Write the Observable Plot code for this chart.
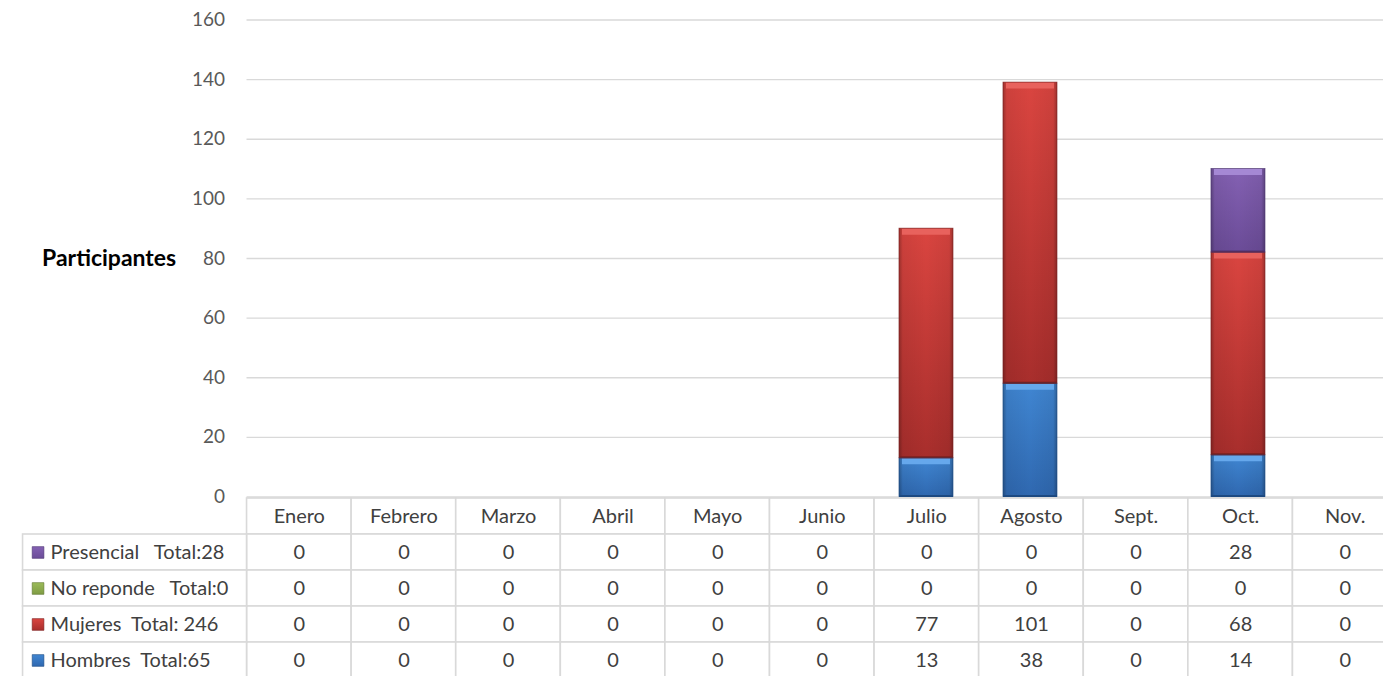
<!DOCTYPE html>
<html>
<head>
<meta charset="utf-8">
<script src="https://cdn.jsdelivr.net/npm/d3@7"></script>
<script src="https://cdn.jsdelivr.net/npm/@observablehq/plot@0.6"></script>
<style>
  html, body { margin: 0; padding: 0; background: white; overflow: hidden; }
  #chart { width: 1383px; height: 676px; position: relative; overflow: hidden; font-family: Lato, "Open Sans", sans-serif; }
  #chart svg { display: block; overflow: visible; max-width: none; }
</style>
</head>
<body>
<div id="chart"></div>
<script>
// ---- data ----
const months = ["Enero","Febrero","Marzo","Abril","Mayo","Junio","Julio","Agosto","Sept.","Oct.","Nov."];
const seriesNames = ["Hombres","Mujeres","No reponde","Presencial"]; // stacking order (bottom -> top)
const hombres    = [0,0,0,0,0,0,13,38,0,14,0];
const mujeres    = [0,0,0,0,0,0,77,101,0,68,0];
const noReponde  = [0,0,0,0,0,0,0,0,0,0,0];
const presencial = [0,0,0,0,0,0,0,0,0,28,0];
const rowLabels = ["Presencial   Total:28","No reponde   Total:0","Mujeres  Total: 246","Hombres  Total:65"];
const tableRows = ["Presencial","No reponde","Mujeres","Hombres"]; // table order (top -> bottom)
const yTicks = [0,20,40,60,80,100,120,140,160];
const yLabel = "Participantes";

// ---- styles ----
// [top bevel, body top, body bottom, bottom edge]
const gradStops = {
  "Hombres":   ["#66a8ec","#4086d2","#2f68b0","#1d4a82"],
  "Mujeres":   ["#e8625d","#da4540","#a82e2c","#7a1f1e"],
  "No reponde":["#bcd982","#9bbb59","#7f9c44","#5e7630"],
  "Presencial":["#a588d4","#8461b3","#6b4c98","#4c3470"]
};
const gid = s => "grad-" + s.replace(/\s+/g, "-");

const valuesBySeries = {"Hombres":hombres,"Mujeres":mujeres,"No reponde":noReponde,"Presencial":presencial};
const stackData = [];
seriesNames.forEach(s => months.forEach((m, i) => stackData.push({month:m, series:s, value:valuesBySeries[s][i]})));
const barData = stackData.filter(d => d.value > 0);

const W = 1383;
const step = 104.6;               // width of one month column in px
const plotLeft = 246.5;
const fullW = plotLeft + step * months.length; // table runs past the right edge (cropped)
const chartDiv = document.getElementById("chart");
const FONT = "Lato, 'Open Sans', sans-serif";

// ---- bar chart ----
const stackOpts = {x: "month", y: "value"};
const bars = Plot.plot({
  width: fullW, height: 497,
  marginLeft: plotLeft, marginRight: 0, marginTop: 19.5, marginBottom: 0.5,
  style: {background: "transparent", overflow: "visible", fontFamily: FONT},
  x: {domain: months, paddingInner: 0.484, paddingOuter: 0.242, axis: null},
  y: {domain: [0, 160], axis: null},
  color: {type: "identity"},
  marks: [
    Plot.ruleY(yTicks, {stroke: "#d9d9d9", strokeWidth: 1.4}),
    Plot.text(yTicks, {y: d => d, frameAnchor: "left", dx: -22, textAnchor: "end", text: d => String(d), fontSize: 19, fill: "#595959"}),
    Plot.text([yLabel], {frameAnchor: "left", dx: -205, textAnchor: "start", text: d => d, fontSize: 23, fontWeight: "bold", fill: "#000"}),
    // body with vertical gradient
    Plot.barY(barData, Plot.stackY({...stackOpts, fill: d => "url(#" + gid(d.series) + ")"})),
    // side shading
    Plot.barY(barData, Plot.stackY({...stackOpts, fill: "url(#side-shade)"})),
    // top bevel highlight
    Plot.tickY(barData, Plot.stackY2({...stackOpts, stroke: d => gradStops[d.series][0], strokeWidth: 6, dy: 3, insetLeft: 3, insetRight: 3})),
    // bottom edge
    Plot.tickY(barData, Plot.stackY1({...stackOpts, stroke: d => gradStops[d.series][3], strokeWidth: 2, dy: -1})),
    // outline
    Plot.barY(barData, Plot.stackY({...stackOpts, fill: "none", stroke: d => gradStops[d.series][3], strokeWidth: 0.8, strokeOpacity: 0.8}))
  ]
});

// gradient defs
const svgNS = "http://www.w3.org/2000/svg";
const defs = document.createElementNS(svgNS, "defs");
function addGrad(id, horizontal, stops) {
  const g = document.createElementNS(svgNS, "linearGradient");
  g.setAttribute("id", id);
  g.setAttribute("x1", "0"); g.setAttribute("y1", "0");
  g.setAttribute("x2", horizontal ? "1" : "0"); g.setAttribute("y2", horizontal ? "0" : "1");
  stops.forEach(([o, c, op]) => {
    const stop = document.createElementNS(svgNS, "stop");
    stop.setAttribute("offset", o); stop.setAttribute("stop-color", c);
    stop.setAttribute("stop-opacity", op == null ? 1 : op);
    g.appendChild(stop);
  });
  defs.appendChild(g);
}
seriesNames.forEach(s => {
  const st = gradStops[s];
  addGrad(gid(s), false, [[0, st[1]], [1, st[2]]]);
});
addGrad("side-shade", true, [[0, "#000", 0.28], [0.07, "#000", 0.06], [0.5, "#000", 0], [0.93, "#000", 0.06], [1, "#000", 0.28]]);
bars.insertBefore(defs, bars.firstChild);
chartDiv.appendChild(bars);

// ---- data table ----
const labelUnits = 224 / step; // width of label column, in month-column units
const rowsDomain = ["header", ...tableRows];
const cells = [];
months.forEach((m, i) => {
  cells.push({i, row: "header", text: m});
  tableRows.forEach(r => cells.push({i, row: r, text: String(valuesBySeries[r][i])}));
});
const labelCells = tableRows.map((r, k) => ({row: r, label: rowLabels[k]}));

const table = Plot.plot({
  width: fullW, height: 181,
  marginLeft: 22.5, marginRight: 0, marginTop: 0, marginBottom: 0,
  style: {background: "transparent", overflow: "visible", fontFamily: FONT, whiteSpace: "pre"},
  x: {domain: [-labelUnits, months.length], axis: null},
  y: {domain: rowsDomain, padding: 0, axis: null},
  color: {type: "identity"},
  marks: [
    Plot.barX(cells, {x1: d => d.i, x2: d => d.i + 1, y: "row", fill: "white", stroke: "#d9d9d9", strokeWidth: 1.6}),
    Plot.barX(labelCells, {x1: -labelUnits, x2: 0, y: "row", fill: "white", stroke: "#d9d9d9", strokeWidth: 1.6}),
    Plot.text(cells, {x: d => d.i + 0.5, y: "row", text: "text", fontSize: 20, fill: "#404040"}),
    Plot.dot(labelCells, {x: -labelUnits, dx: 15, y: "row", symbol: "square", r: 6.6, fill: d => "url(#" + gid(d.row) + ")", stroke: d => gradStops[d.row][3], strokeWidth: 0.6}),
    Plot.text(labelCells, {x: -labelUnits, dx: 27.5, y: "row", text: "label", textAnchor: "start", fontSize: 20, fill: "#404040"})
  ]
});
chartDiv.appendChild(table);
</script>
</body>
</html>
